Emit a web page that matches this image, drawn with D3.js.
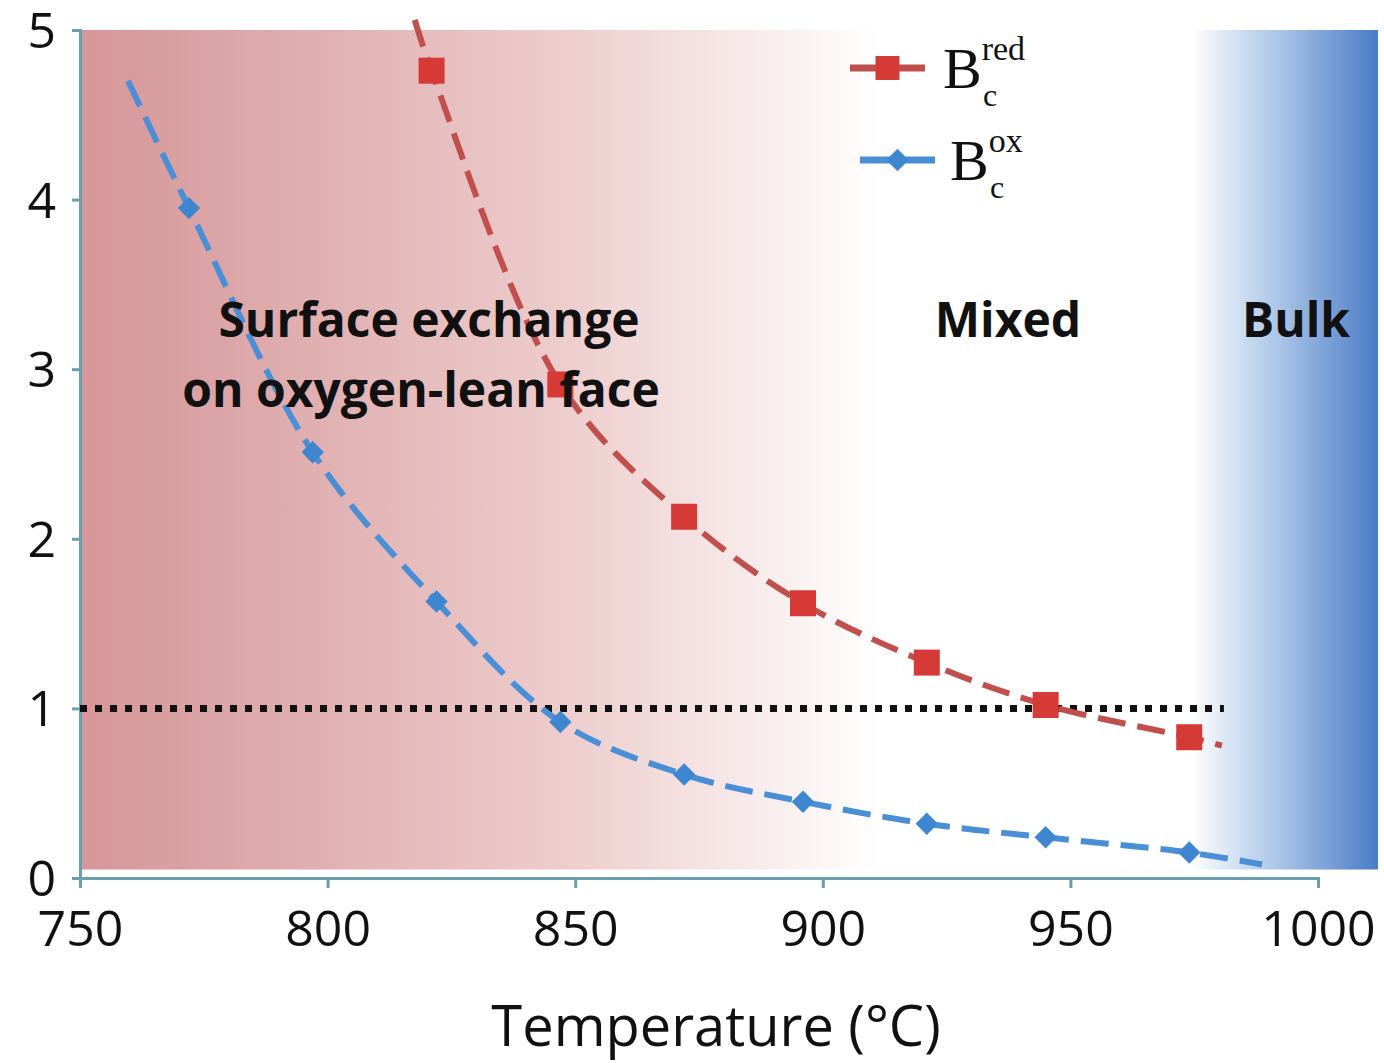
<!DOCTYPE html>
<html>
<head>
<meta charset="utf-8">
<script src="https://cdn.jsdelivr.net/npm/d3@7"></script>
<style>
  body { margin: 0; background: #fff; }
  text { font-family: "Open Sans", sans-serif; }
</style>
</head>
<body>
<svg width="1384" height="1063"></svg>
<script>
// data
const redTemps = [821, 847, 872, 896, 921, 945, 974];
const redVals = [4.76, 2.91, 2.13, 1.62, 1.27, 1.02, 0.83];
const blueTemps = [772, 797, 822, 847, 872, 896, 921, 945, 974];
const blueVals = [3.95, 2.51, 1.63, 0.92, 0.61, 0.45, 0.32, 0.24, 0.15];
// dashed fitted curves run a bit past the first/last marker
const redEnds = [[817.6, 5.06], [980.6, 0.78]];
const blueEnds = [[759.7, 4.7], [988.7, 0.08]];
const xTicks = [750, 800, 850, 900, 950, 1000];
const yTicks = [0, 1, 2, 3, 4, 5];
const threshold = 1;
const regions = ["Mixed", "Bulk"];

let svg = d3.select("svg");

const x = d3.scaleLinear().domain([750, 1000]).range([80, 1318]);
const y = d3.scaleLinear().domain([0, 5]).range([878, 30]);

const red = "#c0504d", redMark = "#d63a36";
const blue = "#4a8fd6", blueMark = "#3f86d0";
const axisColor = "#6b9fb0";

// background gradient: pink -> white -> blue
let defs = svg.append("defs");
let grad = defs.append("linearGradient").attr("id", "bg").attr("x1", "0").attr("x2", "1").attr("y1", "0").attr("y2", "0");
const bgLeft = x(750), bgRight = 1378;
const stop = px => (px - bgLeft) / (bgRight - bgLeft);
grad.append("stop").attr("offset", 0).attr("stop-color", "#d6969a");
grad.append("stop").attr("offset", stop(160)).attr("stop-color", "#d89ea0");
grad.append("stop").attr("offset", stop(560)).attr("stop-color", "#edcccc");
grad.append("stop").attr("offset", stop(880)).attr("stop-color", "#ffffff");
grad.append("stop").attr("offset", stop(1190)).attr("stop-color", "#ffffff");
grad.append("stop").attr("offset", stop(1280)).attr("stop-color", "#a9c4e6");
grad.append("stop").attr("offset", 1).attr("stop-color", "#4a7bc6");

svg.append("rect")
  .attr("x", bgLeft).attr("y", y(5))
  .attr("width", bgRight - bgLeft).attr("height", y(0.05) - y(5))
  .attr("fill", "url(#bg)");

// axes
let xAxis = svg.append("g").attr("transform", "translate(0," + y(0) + ")")
  .call(d3.axisBottom(x).tickValues(xTicks).tickSize(10).tickFormat(d3.format("d")));
let yAxis = svg.append("g").attr("transform", "translate(" + x(750) + ",0)")
  .call(d3.axisLeft(y).tickValues(yTicks).tickSize(8).tickFormat(d3.format("d")));
[xAxis, yAxis].forEach(a => {
  a.select(".domain").attr("stroke", axisColor).attr("stroke-width", 3);
  a.selectAll(".tick line").attr("stroke", axisColor).attr("stroke-width", 3);
  a.selectAll(".tick text").attr("fill", "#111").style("font-size", "50px").style("font-family", "Open Sans");
});
xAxis.selectAll(".tick text").attr("dy", "0").attr("y", 68);
yAxis.selectAll(".tick text").attr("x", -24).attr("dy", "0.35em");

svg.append("text").attr("x", 716).attr("y", 1046).attr("text-anchor", "middle")
  .style("font-size", "56px").attr("fill", "#111").text("Temperature (°C)");

// threshold line
svg.append("line")
  .attr("x1", x(750)).attr("x2", x(981))
  .attr("y1", y(threshold)).attr("y2", y(threshold))
  .attr("stroke", "#111").attr("stroke-width", 7).attr("stroke-dasharray", "7,8");

// curves
const line = d3.line().x(d => x(d[0])).y(d => y(d[1])).curve(d3.curveCatmullRom.alpha(0.5));

const redPts = [redEnds[0]].concat(redTemps.map((t, i) => [t, redVals[i]]), [redEnds[1]]);
const bluePts = [blueEnds[0]].concat(blueTemps.map((t, i) => [t, blueVals[i]]), [blueEnds[1]]);

svg.append("path").attr("d", line(redPts)).attr("fill", "none")
  .attr("stroke", red).attr("stroke-width", 6).attr("stroke-dasharray", "28,12");
svg.append("path").attr("d", line(bluePts)).attr("fill", "none")
  .attr("stroke", blue).attr("stroke-width", 6).attr("stroke-dasharray", "28,12");

svg.selectAll(".sq").data(redTemps).join("rect").attr("class", "sq")
  .attr("x", d => x(d) - 13).attr("y", (d, i) => y(redVals[i]) - 13)
  .attr("width", 26).attr("height", 26).attr("fill", redMark);

const diamond = d3.symbol().type(d3.symbolDiamond2).size(320);
svg.selectAll(".dm").data(blueTemps).join("path").attr("class", "dm")
  .attr("d", diamond)
  .attr("transform", (d, i) => "translate(" + x(d) + "," + y(blueVals[i]) + ")")
  .attr("fill", blueMark);

// region labels
let surf = svg.append("text").attr("text-anchor", "middle").attr("fill", "#111")
  .style("font-size", "48px").style("font-weight", "bold");
surf.append("tspan").attr("x", 429).attr("y", 337).text("Surface exchange");
surf.append("tspan").attr("x", 421).attr("y", 407).text("on oxygen-lean face");
svg.append("text").attr("x", 1008).attr("y", 337).attr("text-anchor", "middle").attr("fill", "#111")
  .style("font-size", "48px").style("font-weight", "bold").text(regions[0]);
svg.append("text").attr("x", 1296).attr("y", 337).attr("text-anchor", "middle").attr("fill", "#111")
  .style("font-size", "48px").style("font-weight", "bold").text(regions[1]);

// legend
function legendEntry(ly, lx0, lx1, color, markColor, shape, sup, bx) {
  let g = svg.append("g");
  g.append("line").attr("x1", lx0).attr("x2", lx1).attr("y1", ly).attr("y2", ly)
    .attr("stroke", color).attr("stroke-width", 7);
  if (shape === "sq") {
    g.append("rect").attr("x", (lx0 + lx1) / 2 - 12).attr("y", ly - 12).attr("width", 24).attr("height", 24).attr("fill", markColor);
  } else {
    g.append("path").attr("d", diamond).attr("transform", "translate(" + ((lx0 + lx1) / 2) + "," + ly + ")").attr("fill", markColor);
  }
  let t = g.append("text").attr("x", bx).attr("y", ly + 20).attr("fill", "#111")
    .style("font-family", "Liberation Serif, serif");
  t.append("tspan").style("font-size", "58px").text("B");
  t.append("tspan").style("font-size", "34px").attr("dy", -28).text(sup);
  g.append("text").attr("x", bx + 40).attr("y", ly + 38).attr("fill", "#111")
    .style("font-family", "Liberation Serif, serif").style("font-size", "32px").text("c");
}
legendEntry(68, 850, 925, red, redMark, "sq", "red", 943);
legendEntry(160, 860, 935, blue, blueMark, "dm", "ox", 950);
</script>
</body>
</html>
